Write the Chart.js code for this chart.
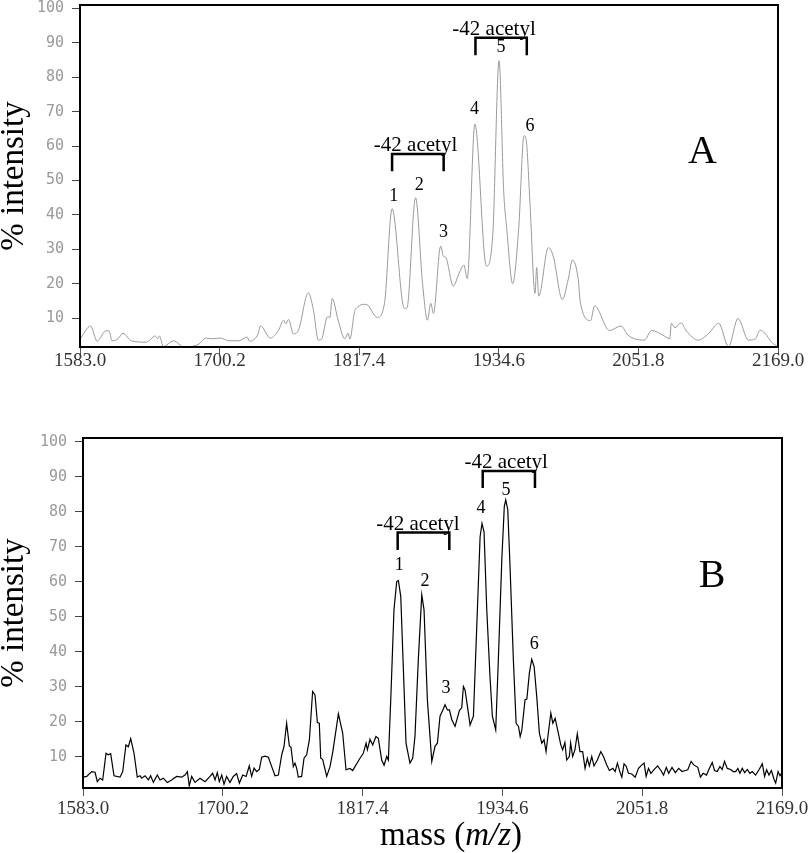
<!DOCTYPE html>
<html lang="en">
<head>
    <meta charset="UTF-8" />
    <title>MALDI spectra A / B</title>
    <script src="https://cdn.jsdelivr.net/npm/chart.js"></script>
    <style>
        body { margin: 0; background: #fff; }
        #wrap { position: relative; width: 810px; height: 853px; }
        canvas { position: absolute; left: 0; }
        #massTitle {
            position: absolute; left: 451px; top: 818px; transform: translateX(-50%);
            font: 33px/1 'Liberation Serif', 'Times New Roman', serif; color: #000; white-space: nowrap;
        }
    </style>
</head>
<body>
<div id="wrap">
    <canvas id="chartA" width="810" height="400" style="top:0"></canvas>
    <canvas id="chartB" width="810" height="420" style="top:420px"></canvas>
    <div id="massTitle">mass (<i>m/z</i>)</div>
</div>
<script>
    // axis ticks
    const massTicks = [1583.0, 1700.2, 1817.4, 1934.6, 2051.8, 2169.0];
    const intensityTicks = [10, 20, 30, 40, 50, 60, 70, 80, 90, 100];

    // spectrum A (grey trace)
    const massA = [
        1583.0, 1591.9, 1597.4, 1604.7, 1607.4, 1609.9, 1614.9, 1619.1, 1626.1, 1638.6,
        1646.3, 1648.3, 1649.7, 1653.0, 1661.4, 1670.5, 1676.1, 1683.0, 1688.6, 1694.1,
        1701.1, 1708.0, 1716.4, 1723.3, 1725.3, 1732.5, 1734.5, 1742.8, 1749.7, 1753.9,
        1755.8, 1758.0, 1762.2, 1766.4, 1774.7, 1778.9, 1783.1, 1785.8, 1790.8, 1792.8,
        1794.7, 1799.7, 1805.3, 1808.1, 1809.5, 1814.1, 1823.3, 1832.5, 1838.6, 1845.0,
        1855.3, 1857.5, 1864.7, 1870.6, 1874.7, 1877.5, 1879.7, 1885.8, 1888.1, 1890.0,
        1896.4, 1901.2, 1905.3, 1908.1, 1914.5, 1924.2, 1929.5, 1934.8, 1938.7, 1941.4,
        1946.2, 1951.2, 1955.8, 1957.5, 1960.8, 1965.0, 1966.4, 1968.1, 1976.2, 1980.3,
        1987.9, 1992.9, 1996.4, 2001.2, 2003.1, 2011.7, 2015.0, 2027.5, 2037.3, 2042.9,
        2056.7, 2062.9, 2072.1, 2078.1, 2079.5, 2082.5, 2087.5, 2092.0, 2102.0, 2110.9,
        2119.2, 2127.5, 2135.4, 2144.2, 2149.8, 2154.0, 2158.1, 2163.7, 2169.0
    ];
    const intensityA = [
        3.9, 7.7, 3.3, 6.3, 6.3, 3.4, 4.0, 5.6, 3.4, 3.0,
        4.8, 4.0, 4.8, 1.7, 3.4, 1.6, 1.7, 2.5, 4.2, 4.0,
        4.2, 3.4, 3.4, 4.5, 3.3, 5.4, 7.7, 4.2, 6.5, 9.4,
        8.3, 9.6, 5.4, 6.5, 17.3, 12.5, 3.6, 3.9, 10.4, 10.2,
        15.7, 9.4, 4.0, 5.6, 3.9, 12.5, 14.0, 10.2, 14.2, 41.8,
        12.8, 13.0, 45.0, 20.0, 9.4, 14.3, 11.4, 30.9, 28.0, 27.7,
        19.3, 23.0, 25.4, 21.5, 66.4, 25.1, 34.0, 84.8, 47.0, 35.5,
        20.0, 35.5, 63.0, 62.0, 43.2, 17.2, 24.7, 16.4, 30.5, 28.0,
        15.4, 21.3, 26.9, 21.5, 14.5, 9.3, 13.6, 6.4, 7.7, 5.1,
        3.6, 6.4, 5.1, 4.0, 8.5, 7.2, 8.6, 6.3, 3.6, 5.6,
        8.5, 1.7, 9.9, 3.6, 3.9, 6.5, 5.6, 3.0, 1.6
    ];

    // spectrum B (black trace)
    const massB = [
        1583.0, 1586.1, 1590.3, 1593.1, 1595.0, 1597.3, 1599.5, 1602.3, 1604.2, 1606.2,
        1609.0, 1614.0, 1616.3, 1619.0, 1621.0, 1623.0, 1625.8, 1628.5, 1630.8, 1632.2,
        1635.0, 1637.8, 1639.7, 1642.0, 1645.3, 1647.6, 1650.3, 1653.7, 1657.3, 1661.5,
        1665.7, 1668.5, 1670.5, 1672.1, 1674.1, 1676.9, 1681.1, 1685.3, 1689.5, 1691.7,
        1693.7, 1695.6, 1697.3, 1699.3, 1701.2, 1703.4, 1706.2, 1709.0, 1711.8, 1714.1,
        1716.9, 1719.7, 1722.4, 1724.4, 1726.4, 1728.6, 1730.8, 1732.8, 1735.6, 1738.4,
        1741.2, 1744.0, 1746.8, 1749.6, 1751.5, 1753.7, 1756.0, 1757.4, 1759.3, 1760.7,
        1762.1, 1763.5, 1766.3, 1768.3, 1770.5, 1772.8, 1775.5, 1777.5, 1779.5, 1781.1,
        1782.3, 1783.9, 1787.3, 1790.1, 1792.3, 1794.3, 1797.1, 1800.7, 1803.5, 1806.8,
        1809.1, 1811.0, 1815.2, 1818.0, 1820.3, 1821.4, 1823.6, 1825.9, 1828.6, 1830.6,
        1833.4, 1835.4, 1837.6, 1839.0, 1841.2, 1843.7, 1846.0, 1847.4, 1849.4, 1851.5,
        1853.8, 1857.1, 1859.4, 1861.3, 1864.1, 1867.0, 1868.9, 1871.7, 1875.4, 1878.1,
        1880.1, 1882.3, 1884.6, 1886.5, 1888.5, 1890.2, 1892.2, 1894.9, 1898.6, 1900.5,
        1901.9, 1903.3, 1905.3, 1907.5, 1910.3, 1913.1, 1915.9, 1917.5, 1919.2, 1921.5,
        1924.2, 1926.2, 1929.0, 1931.2, 1934.1, 1936.2, 1937.4, 1939.1, 1941.0, 1943.8,
        1946.1, 1948.1, 1949.5, 1950.9, 1953.6, 1955.1, 1957.2, 1959.2, 1961.2, 1963.4,
        1965.6, 1967.6, 1969.5, 1971.2, 1973.1, 1975.2, 1976.9, 1978.8, 1981.5, 1983.5,
        1985.1, 1987.0, 1988.5, 1990.7, 1991.8, 1993.5, 1995.4, 1997.4, 1999.6, 2001.9,
        2003.9, 2005.8, 2007.5, 2009.5, 2011.4, 2014.2, 2017.1, 2019.3, 2022.1, 2024.3,
        2027.2, 2029.1, 2031.0, 2033.3, 2034.7, 2036.6, 2038.3, 2040.3, 2043.1, 2045.9,
        2048.7, 2051.5, 2053.4, 2055.1, 2057.1, 2059.1, 2061.9, 2064.7, 2067.5, 2069.7,
        2072.0, 2074.0, 2076.8, 2079.6, 2082.4, 2085.2, 2088.0, 2090.0, 2092.8, 2095.0,
        2098.4, 2100.6, 2102.9, 2105.7, 2107.6, 2110.5, 2112.4, 2114.7, 2116.9, 2118.9,
        2120.8, 2123.1, 2125.9, 2128.1, 2130.1, 2132.0, 2133.7, 2135.7, 2137.7, 2139.9,
        2142.1, 2144.1, 2146.9, 2149.7, 2152.5, 2154.4, 2156.1, 2158.1, 2160.1, 2162.3,
        2163.7, 2165.7, 2167.3, 2169.0
    ];
    const intensityB = [
        4.2, 4.4, 5.8, 5.6, 2.9, 3.9, 3.4, 11.0, 10.6, 10.9,
        4.6, 4.2, 5.8, 13.4, 12.9, 15.2, 11.0, 4.2, 4.6, 3.9,
        4.6, 3.4, 4.6, 2.7, 4.8, 3.4, 3.9, 2.7, 3.4, 4.4,
        4.2, 4.8, 5.8, 1.7, 4.4, 2.7, 3.9, 2.9, 4.4, 5.3,
        3.4, 5.5, 2.9, 4.8, 2.2, 4.4, 2.7, 4.4, 5.2, 2.5,
        4.8, 4.4, 7.4, 4.4, 6.8, 5.8, 6.4, 9.9, 10.2, 9.9,
        7.2, 4.6, 4.8, 10.6, 12.9, 19.6, 13.1, 12.7, 7.2, 8.2,
        6.8, 4.2, 4.4, 9.6, 10.6, 14.9, 28.7, 27.7, 19.8, 19.6,
        9.6, 9.3, 4.4, 7.2, 11.2, 15.8, 22.3, 16.8, 6.3, 6.7,
        6.1, 7.2, 9.6, 11.0, 13.9, 12.0, 15.0, 13.4, 15.8, 15.3,
        9.1, 7.6, 10.1, 9.1, 28.2, 52.0, 60.1, 60.4, 55.8, 35.8,
        13.9, 8.2, 9.6, 15.8, 37.7, 56.3, 52.0, 26.3, 8.7, 13.0,
        13.9, 21.6, 23.3, 24.9, 23.4, 23.4, 20.6, 18.7, 23.3, 24.0,
        30.1, 29.1, 24.4, 19.1, 21.6, 47.2, 72.9, 76.7, 74.3, 52.0,
        32.9, 21.6, 17.7, 37.7, 66.3, 81.6, 83.4, 80.6, 64.4, 37.7,
        19.6, 18.7, 15.8, 17.7, 26.3, 26.5, 33.9, 37.9, 35.8, 27.2,
        16.8, 13.9, 14.9, 11.5, 16.8, 22.5, 19.6, 21.0, 16.8, 13.5,
        12.0, 14.1, 9.1, 10.1, 14.0, 10.1, 12.0, 16.6, 11.5, 11.5,
        6.7, 9.6, 7.4, 10.1, 7.4, 9.1, 11.5, 10.1, 7.7, 6.1,
        6.7, 5.8, 8.2, 5.5, 4.2, 8.0, 7.4, 5.3, 5.1, 4.2,
        6.7, 7.7, 8.2, 4.4, 6.7, 5.3, 6.4, 7.4, 6.1, 4.8,
        7.0, 5.3, 7.0, 5.5, 6.7, 5.8, 6.1, 6.3, 8.7, 7.7,
        7.0, 4.2, 5.3, 4.8, 6.3, 8.4, 6.1, 5.8, 7.2, 6.4,
        8.7, 6.7, 6.4, 5.8, 5.8, 6.7, 5.3, 6.7, 5.5, 6.4,
        5.3, 5.8, 4.8, 6.3, 8.0, 4.4, 6.3, 4.8, 6.1, 3.6,
        2.5, 5.8, 4.6, 5.5
    ];

    // annotations, in data units
    const bracketText = '-42 acetyl';
    // [from mass, to mass, bar height, leg foot, text centre mass]
    const bracketsA = [[1845.0, 1888.3, 57.7, 52.7, 1864.7], [1915.0, 1958.1, 91.5, 86.4, 1930.6]];
    const bracketsB = [[1846.8, 1890.1, 74.1, 69.1, 1863.8], [1918.1, 1961.9, 91.7, 86.8, 1937.8]];
    // peak numbers 1..6: [mass, intensity]
    const peaksA = [[1846.4, 45.4], [1867.8, 48.6], [1888.1, 35.0], [1914.2, 70.8], [1936.4, 88.6], [1960.8, 65.7]];
    const peaksB = [[1848.2, 64.6], [1869.7, 60.1], [1887.3, 29.6], [1916.7, 81.1], [1937.6, 86.1], [1961.4, 42.3]];

    const serif = "'Liberation Serif', 'Times New Roman', serif";

    const frame = {
        id: 'frame',
        afterDraw(chart) {
            const { ctx, chartArea: a } = chart;
            ctx.save();
            ctx.strokeStyle = '#000';
            ctx.lineWidth = 2;
            ctx.strokeRect(a.left, a.top, a.right - a.left, a.bottom - a.top);
            ctx.restore();
        }
    };

    const notes = {
        id: 'notes',
        afterDatasetsDraw(chart, args, o) {
            const { ctx, scales: { x, y } } = chart;
            ctx.save();
            ctx.fillStyle = '#000';
            ctx.strokeStyle = '#000';
            ctx.lineWidth = 2.5;
            ctx.textAlign = 'center';
            ctx.font = '21px ' + serif;
            ctx.textBaseline = 'alphabetic';
            o.brackets.forEach(([m1, m2, top, foot, mt]) => {
                const x1 = x.getPixelForValue(m1), x2 = x.getPixelForValue(m2);
                const yt = y.getPixelForValue(top), yf = y.getPixelForValue(foot);
                ctx.beginPath();
                ctx.moveTo(x1, yf);
                ctx.lineTo(x1, yt);
                ctx.lineTo(x2, yt);
                ctx.lineTo(x2, yf);
                ctx.stroke();
                ctx.fillText(bracketText, x.getPixelForValue(mt), yt - 3);
            });
            ctx.font = '18px ' + serif;
            ctx.textBaseline = 'middle';
            o.peaks.forEach(([m, v], i) => {
                ctx.fillText(String(i + 1), x.getPixelForValue(m), y.getPixelForValue(v));
            });
            ctx.font = '40px ' + serif;
            ctx.fillText(o.panel[0], x.getPixelForValue(o.panel[1]), y.getPixelForValue(o.panel[2]));
            ctx.restore();
        }
    };

    function spectrum(id, mass, intensity, cfg) {
        new Chart(document.getElementById(id), {
            type: 'line',
            data: {
                datasets: [{
                    data: mass.map((m, i) => ({ x: m, y: intensity[i] })),
                    borderColor: cfg.color,
                    borderWidth: cfg.width,
                    pointRadius: 0,
                    tension: cfg.tension,
                    cubicInterpolationMode: cfg.tension ? 'monotone' : 'default',
                    fill: false
                }]
            },
            options: {
                responsive: false,
                animation: false,
                layout: { padding: cfg.padding },
                plugins: {
                    legend: { display: false },
                    tooltip: { enabled: false },
                    notes: { brackets: cfg.brackets, peaks: cfg.peaks, panel: cfg.panel }
                },
                scales: {
                    x: {
                        type: 'linear',
                        min: 1583,
                        max: 2169,
                        afterBuildTicks: s => { s.ticks = massTicks.map(v => ({ value: v })); },
                        afterFit: s => { s.height = cfg.xHeight; s.paddingLeft = 0; s.paddingRight = 0; },
                        border: { display: false },
                        grid: { drawOnChartArea: false, tickLength: 8, tickColor: '#555' },
                        ticks: {
                            autoSkip: false,
                            maxRotation: 0,
                            padding: cfg.xPad,
                            color: '#333',
                            font: { family: serif, size: 19, lineHeight: 1 },
                            callback: v => v.toFixed(1)
                        }
                    },
                    y: {
                        min: cfg.yMin,
                        max: cfg.yMax,
                        afterBuildTicks: s => { s.ticks = intensityTicks.map(v => ({ value: v })); },
                        afterFit: s => { s.width = cfg.yWidth; s.paddingTop = 0; s.paddingBottom = 0; },
                        border: { display: false },
                        grid: { drawOnChartArea: false, tickLength: 8, tickColor: '#444' },
                        ticks: {
                            padding: 8,
                            color: '#999',
                            font: { family: "'DejaVu Sans Mono', monospace", size: 15 }
                        },
                        title: {
                            display: true,
                            text: '% intensity',
                            color: '#000',
                            padding: { top: -2, bottom: 0 },
                            font: { family: serif, size: 33, lineHeight: 1 }
                        }
                    }
                }
            },
            plugins: [frame, notes]
        });
    }

    spectrum('chartA', massA, intensityA, {
        color: '#9a9a9a', width: 1, tension: 0.3,
        padding: { left: 0, right: 32, top: 5, bottom: 0 },
        xHeight: 53, xPad: -3, yWidth: 80, yMin: 1.6, yMax: 101,
        brackets: bracketsA, peaks: peaksA, panel: ['A', 2105.6, 58.1]
    });

    spectrum('chartB', massB, intensityB, {
        color: '#000', width: 1.2, tension: 0,
        padding: { left: 0, right: 28, top: 18, bottom: 0 },
        xHeight: 52, xPad: 4, yWidth: 83, yMin: 1.1, yMax: 101.1,
        brackets: bracketsB, peaks: peaksB, panel: ['B', 2110.3, 61.4]
    });
</script>
</body>
</html>
